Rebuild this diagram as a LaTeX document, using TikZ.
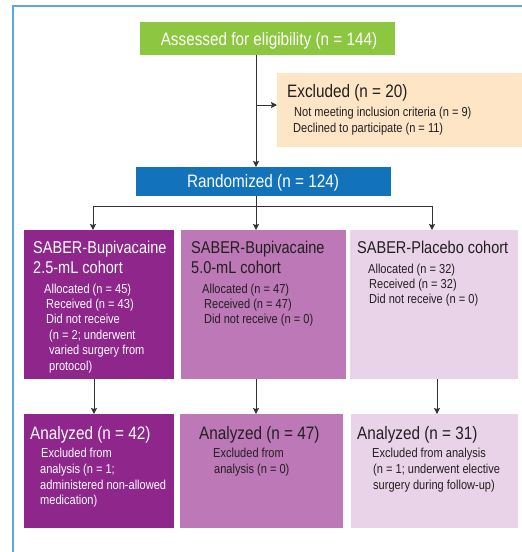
\documentclass[tikz,border=0pt]{standalone}
\usepackage{fontspec}
\setmainfont{Liberation Sans}[FakeStretch=0.85]
\usetikzlibrary{arrows.meta}
\definecolor{cgreen}{HTML}{8DC63F}
\definecolor{cpeach}{HTML}{FDE5C5}
\definecolor{cblue}{HTML}{1373BA}
\definecolor{cdark}{HTML}{8E268C}
\definecolor{cmid}{HTML}{BC78B7}
\definecolor{clight}{HTML}{E9D3E8}
\definecolor{cframe}{HTML}{5BA8DC}
\definecolor{ctext}{HTML}{231F20}
\definecolor{cline}{HTML}{333333}
\begin{document}
\begin{tikzpicture}[x=1pt,y=-1pt,
  boxst/.style={draw=none, inner sep=0pt, outer sep=0pt, anchor=north west},
  big/.style={inner sep=0pt, anchor=base west, font=\fontsize{18}{21}\selectfont},
  mid/.style={inner sep=0pt, anchor=base west, font=\fontsize{17.1}{20}\selectfont},
  sml/.style={inner sep=0pt, anchor=base west, font=\fontsize{13}{15}\selectfont},
  conn/.style={draw=cline, line width=1pt},
  arr/.style={conn, -{Stealth[length=6pt,width=6pt,inset=1pt]}}]
\useasboundingbox (0,0) rectangle (522,552);
\fill[white] (0,0) rectangle (522,552);
% frame
\draw[cframe, line width=1.5pt] (13,552) -- (13,6) -- (522,6);
% boxes
\node[boxst, fill=cgreen, minimum width=255pt, minimum height=33pt] (assess) at (140,22) {};
\node[boxst, fill=cpeach, minimum width=245pt, minimum height=74pt] (excl) at (277,73) {};
\node[boxst, fill=cblue, minimum width=255pt, minimum height=29pt] (rand) at (136,167) {};
\node[boxst, fill=cdark, minimum width=150pt, minimum height=149pt] (a1) at (24,230) {};
\node[boxst, fill=cmid, minimum width=165pt, minimum height=149pt] (a2) at (181,230) {};
\node[boxst, fill=clight, minimum width=168pt, minimum height=149pt] (a3) at (350,230) {};
\node[boxst, fill=cdark, minimum width=150pt, minimum height=114pt] (b1) at (24,414) {};
\node[boxst, fill=cmid, minimum width=163pt, minimum height=114pt] (b2) at (180,414) {};
\node[boxst, fill=clight, minimum width=167pt, minimum height=114pt] (b3) at (351,414) {};
% texts
\node[big, anchor=base, text=white] (tassess) at (269,45) {Assessed for eligibility (n = 144)};
\node[big, text=ctext] (texcl) at (287,97) {Excluded (n = 20)};
\node[sml, text=ctext] (texcl1) at (294,116) {Not meeting inclusion criteria (n = 9)};
\node[sml, text=ctext] (texcl2) at (293,132) {Declined to participate (n = 11)};
\node[big, anchor=base, text=white] (trand) at (263,187) {Randomized (n = 124)};
% row 1
\node[mid, text=white] (a1h1) at (33,253) {SABER-Bupivacaine};
\node[mid, text=white] (a1h2) at (33,273) {2.5-mL cohort};
\node[sml, text=white] (a1l1) at (44,293) {Allocated (n = 45)};
\node[sml, text=white] (a1l2) at (46,308) {Received (n = 43)};
\node[sml, text=white] (a1l3) at (46,323) {Did not receive};
\node[sml, text=white] (a1l4) at (49,339) {(n = 2; underwent};
\node[sml, text=white] (a1l5) at (49,354) {varied surgery from};
\node[sml, text=white] (a1l6) at (49,370) {protocol)};
\node[mid, text=ctext] (a2h1) at (191,253) {SABER-Bupivacaine};
\node[mid, text=ctext] (a2h2) at (191,273) {5.0-mL cohort};
\node[sml, text=ctext] (a2l1) at (202,293) {Allocated (n = 47)};
\node[sml, text=ctext] (a2l2) at (204,308) {Received (n = 47)};
\node[sml, text=ctext] (a2l3) at (204,323) {Did not receive (n = 0)};
\node[mid, text=ctext] (a3h1) at (357,253) {SABER-Placebo cohort};
\node[sml, text=ctext] (a3l1) at (368,273) {Allocated (n = 32)};
\node[sml, text=ctext] (a3l2) at (369,288) {Received (n = 32)};
\node[sml, text=ctext] (a3l3) at (369,303) {Did not receive (n = 0)};
% row 2
\node[big, text=white] (b1h) at (30,439) {Analyzed (n = 42)};
\node[sml, text=white] (b1l1) at (41,457) {Excluded from};
\node[sml, text=white] (b1l2) at (40,473) {analysis (n = 1;};
\node[sml, text=white] (b1l3) at (40,489) {administered non-allowed};
\node[sml, text=white] (b1l4) at (40,504) {medication)};
\node[big, text=ctext] (b2h) at (199,439) {Analyzed (n = 47)};
\node[sml, text=ctext] (b2l1) at (213,457) {Excluded from};
\node[sml, text=ctext] (b2l2) at (214,473) {analysis (n = 0)};
\node[big, text=ctext] (b3h) at (357,439) {Analyzed (n = 31)};
\node[sml, text=ctext] (b3l1) at (372,457) {Excluded from analysis};
\node[sml, text=ctext] (b3l2) at (373,473) {(n = 1; underwent elective};
\node[sml, text=ctext] (b3l3) at (373,489) {surgery during follow-up)};
% connectors
\coordinate (cx) at (256,0);
\coordinate (br) at (256,105);
\coordinate (sp) at (256,206);
\coordinate (spl) at (93,206);
\coordinate (spr) at (432,206);
\draw[arr] (assess.south -| cx) -- (rand.north -| cx);
\draw[arr] (br) -- (excl.west |- br);
\draw[conn] (rand.south -| cx) -- (sp);
\draw[conn] (spl) -- (spr);
\draw[arr] (spl) -- (a1.north -| spl);
\draw[arr] (sp) -- (a2.north -| sp);
\draw[arr] (spr) -- (a3.north -| spr);
\coordinate (d1) at (94,0);
\coordinate (d2) at (256,0);
\coordinate (d3) at (437,0);
\draw[arr] (a1.south -| d1) -- (b1.north -| d1);
\draw[arr] (a2.south -| d2) -- (b2.north -| d2);
\draw[arr] (a3.south -| d3) -- (b3.north -| d3);
\end{tikzpicture}
\end{document}
